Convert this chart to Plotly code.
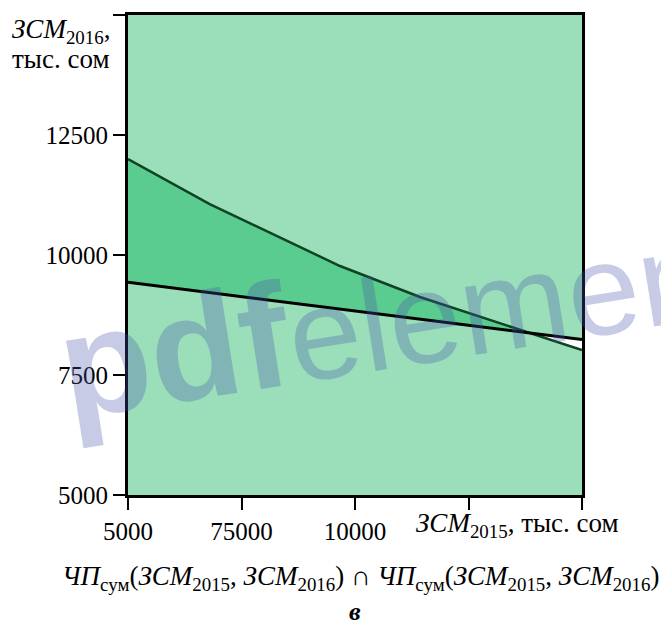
import numpy as np
import plotly.graph_objects as go

# Data
upper_x = [5000, 6800, 9670, 11430, 15000]
upper_y = [12000, 11060, 9770, 9125, 8020]
lower_x = [5000, 15000]
lower_y = [9430, 8240]

x_tickvals = [5000, 7500, 10000, 12500, 15000]
x_ticktext = ["5000", "75000", "10000", "", ""]
y_tickvals = [5000, 7500, 10000, 12500, 15000]
y_ticktext = ["5000", "7500", "10000", "12500", ""]

LIGHT = "#9ADFB9"
DARK = "#5ACC8F"
FONT = "Liberation Serif, Times New Roman, serif"

xs = np.linspace(min(upper_x), max(upper_x), 801)
u = np.interp(xs, upper_x, upper_y)
l = np.interp(xs, lower_x, lower_y)
top = np.maximum(u, l)

fig = go.Figure()
# dark region where upper > lower
fig.add_trace(go.Scatter(x=xs, y=l, mode="lines", line=dict(width=0), hoverinfo="skip", showlegend=False))
fig.add_trace(go.Scatter(x=xs, y=top, mode="lines", line=dict(width=0), fill="tonexty",
                         fillcolor=DARK, hoverinfo="skip", showlegend=False))
# white region where lower > upper
fig.add_trace(go.Scatter(x=xs, y=u, mode="lines", line=dict(width=0), hoverinfo="skip", showlegend=False))
fig.add_trace(go.Scatter(x=xs, y=top, mode="lines", line=dict(width=0), fill="tonexty",
                         fillcolor="white", hoverinfo="skip", showlegend=False))
# lines
fig.add_trace(go.Scatter(x=upper_x, y=upper_y, mode="lines", line=dict(color="#0F4322", width=2.5),
                         showlegend=False))
fig.add_trace(go.Scatter(x=lower_x, y=lower_y, mode="lines", line=dict(color="black", width=3),
                         showlegend=False))

axis_common = dict(showline=True, linecolor="black", linewidth=3, mirror=True,
                   ticks="outside", ticklen=12, tickwidth=1.5, tickcolor="black",
                   showgrid=False, zeroline=False,
                   tickfont=dict(family=FONT, size=25, color="black"))
fig.update_xaxes(range=[5000, 15000], tickmode="array", tickvals=x_tickvals, ticktext=x_ticktext,
                 **axis_common)
fig.update_yaxes(range=[5000, 15000], tickmode="array", tickvals=y_tickvals, ticktext=y_ticktext,
                 **axis_common)

fig.update_layout(
    width=661, height=622,
    margin=dict(l=128, r=79, t=15, b=127),
    plot_bgcolor=LIGHT, paper_bgcolor="white",
    font=dict(family=FONT, color="black"),
)

ann = []
ann.append(dict(text="<i>ЗСМ</i><sub>2016</sub>,", xref="paper", yref="paper",
                x=(10 - 128) / 454, y=(495 - 31) / 480, xanchor="left", yanchor="middle",
                showarrow=False, font=dict(family=FONT, size=27)))
ann.append(dict(text="тыс. сом", xref="paper", yref="paper",
                x=(10 - 128) / 454, y=(495 - 59) / 480, xanchor="left", yanchor="middle",
                showarrow=False, font=dict(family=FONT, size=27)))
ann.append(dict(text="<i>ЗСМ</i><sub>2015</sub>, тыс. сом", xref="paper", yref="paper",
                x=(414 - 128) / 454, y=(495 - 525) / 480, xanchor="left", yanchor="middle",
                showarrow=False, font=dict(family=FONT, size=27)))
ann.append(dict(text="<i>ЧП</i><sub>сум</sub>(<i>ЗСМ</i><sub>2015</sub>, <i>ЗСМ</i><sub>2016</sub>) ∩ "
                     "<i>ЧП</i><sub>сум</sub>(<i>ЗСМ</i><sub>2015</sub>, <i>ЗСМ</i><sub>2016</sub>)",
                xref="paper", yref="paper",
                x=(360 - 128) / 454, y=(495 - 578) / 480, xanchor="center", yanchor="middle",
                showarrow=False, font=dict(family=FONT, size=27)))
ann.append(dict(text="<b><i>в</i></b>", xref="paper", yref="paper",
                x=(355 - 128) / 454, y=(495 - 611) / 480, xanchor="center", yanchor="middle",
                showarrow=False, font=dict(family=FONT, size=26)))
# watermark
ann.append(dict(text="<span style='font-size:148px'><b>pdf</b></span>element", xref="paper", yref="paper",
                x=(402 - 128) / 454, y=(495 - 314) / 480, xanchor="center", yanchor="middle",
                textangle=-9, showarrow=False,
                font=dict(family="Liberation Sans, Arial, sans-serif", size=130,
                          color="rgba(72,82,172,0.3)")))
fig.update_layout(annotations=ann)

fig.write_html("out.html", config={"displayModeBar": False},
               post_script="document.body.style.margin='0px';document.body.style.overflow='hidden';")
